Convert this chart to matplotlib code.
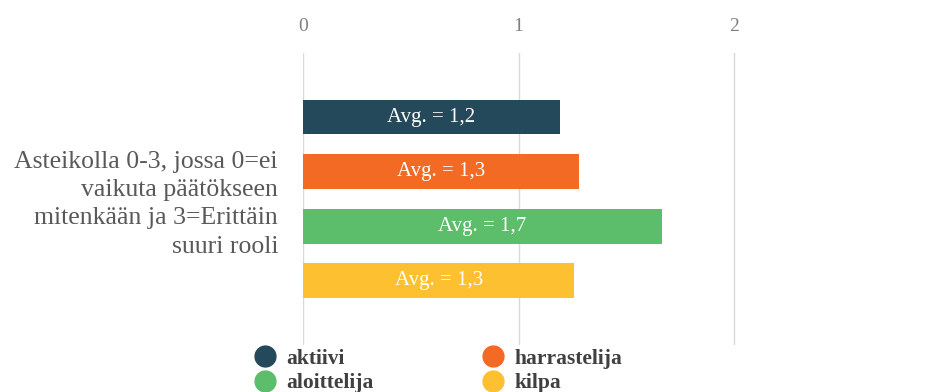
import numpy as np
import matplotlib.pyplot as plt
from matplotlib.lines import Line2D

plt.rcParams['font.family'] = ['Liberation Serif', 'DejaVu Serif']

groups = ['aktiivi', 'harrastelija', 'aloittelija', 'kilpa']
values = [1.193, 1.282, 1.667, 1.259]
labels = ['Avg. = 1,2', 'Avg. = 1,3', 'Avg. = 1,7', 'Avg. = 1,3']
colors = ['#24495a', '#f26a24', '#5cbd6a', '#fdc030']
question = 'Asteikolla 0-3, jossa 0=ei\nvaikuta päätökseen\nmitenkään ja 3=Erittäin\nsuuri rooli'
xticks = [0, 1, 2, 3]

fig = plt.figure(figsize=(9.4, 3.92), dpi=100)
ax = fig.add_axes([303 / 940, 47 / 392, 646.5 / 940, 292 / 392])

pos = np.arange(len(groups))
bars = ax.barh(pos, values, height=0.64, color=colors, zorder=3)
for b, lab in zip(bars, labels):
    ax.text(b.get_width() / 2, b.get_y() + b.get_height() / 2, lab,
            color='white', ha='center', va='center', fontsize=15, zorder=4)

ax.set_xlim(0, 3)
ax.set_ylim(4.18, -1.174)
ax.set_xticks(xticks)
ax.set_xticklabels([str(t) for t in xticks], color='#7f7f7f', fontsize=14)
ax.xaxis.tick_top()
ax.tick_params(axis='x', length=0, pad=13)
ax.grid(axis='x', color='#d9d9d9', linewidth=1, zorder=0)
ax.axvline(0, color='#c5d3ec', linewidth=1.2, zorder=1)

ax.set_yticks([1.5])
ax.set_yticklabels([question], fontsize=18.5, color='#595959', ha='right',
                   multialignment='right', linespacing=1.36)
ax.tick_params(axis='y', length=0, pad=18)
for s in ax.spines.values():
    s.set_visible(False)

handles = [Line2D([], [], marker='o', linestyle='', markersize=15, color=c) for c in colors]
order = [0, 2, 1, 3]
leg = fig.legend([handles[i] for i in order], [groups[i] for i in order],
                 ncol=2, loc='upper left', bbox_to_anchor=(240 / 940, 1 - 338 / 392),
                 frameon=False, prop={'weight': 'bold', 'size': 15.5},
                 handletextpad=0.35, columnspacing=4.9, labelspacing=0.2,
                 borderpad=0, handlelength=1.3)
for t in leg.get_texts():
    t.set_color('#404040')

fig.savefig('out.png', dpi=100)
